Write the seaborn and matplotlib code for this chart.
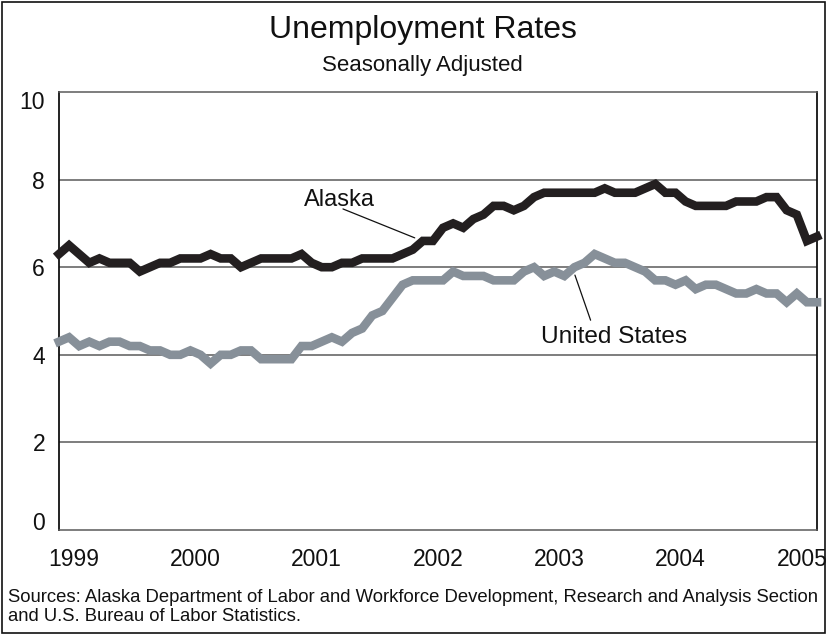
import matplotlib
matplotlib.use("Agg")
import matplotlib.pyplot as plt
import matplotlib.transforms as mtransforms
import seaborn as sns
import pandas as pd
import numpy as np
from matplotlib.patches import Rectangle

# Monthly, seasonally adjusted, Jan 1999 - Apr 2005
alaska = [6.3, 6.5, 6.3, 6.1, 6.2, 6.1, 6.1, 6.1, 5.9, 6.0, 6.1, 6.1,
          6.2, 6.2, 6.2, 6.3, 6.2, 6.2, 6.0, 6.1, 6.2, 6.2, 6.2, 6.2,
          6.3, 6.1, 6.0, 6.0, 6.1, 6.1, 6.2, 6.2, 6.2, 6.2, 6.3, 6.4,
          6.6, 6.6, 6.9, 7.0, 6.9, 7.1, 7.2, 7.4, 7.4, 7.3, 7.4, 7.6,
          7.7, 7.7, 7.7, 7.7, 7.7, 7.7, 7.8, 7.7, 7.7, 7.7, 7.8, 7.9,
          7.7, 7.7, 7.5, 7.4, 7.4, 7.4, 7.4, 7.5, 7.5, 7.5, 7.6, 7.6,
          7.3, 7.2, 6.6, 6.7]
united_states = [4.3, 4.4, 4.2, 4.3, 4.2, 4.3, 4.3, 4.2, 4.2, 4.1, 4.1, 4.0,
                 4.0, 4.1, 4.0, 3.8, 4.0, 4.0, 4.1, 4.1, 3.9, 3.9, 3.9, 3.9,
                 4.2, 4.2, 4.3, 4.4, 4.3, 4.5, 4.6, 4.9, 5.0, 5.3, 5.6, 5.7,
                 5.7, 5.7, 5.7, 5.9, 5.8, 5.8, 5.8, 5.7, 5.7, 5.7, 5.9, 6.0,
                 5.8, 5.9, 5.8, 6.0, 6.1, 6.3, 6.2, 6.1, 6.1, 6.0, 5.9, 5.7,
                 5.7, 5.6, 5.7, 5.5, 5.6, 5.6, 5.5, 5.4, 5.4, 5.5, 5.4, 5.4,
                 5.2, 5.4, 5.2, 5.2]
years = ["1999", "2000", "2001", "2002", "2003", "2004", "2005"]
y_ticks = [0, 2, 4, 6, 8, 10]

month = np.arange(len(alaska))
df = pd.concat([
    pd.DataFrame({"Month": month, "Rate": alaska, "Area": "Alaska"}),
    pd.DataFrame({"Month": month, "Rate": united_states, "Area": "United States"}),
])

sns.set_style("white")
plt.rcParams["font.family"] = ["Liberation Sans", "DejaVu Sans"]

fig = plt.figure(figsize=(8.27, 6.34), dpi=100)
ax = fig.add_axes([0.0713, 0.164, 0.9166, 0.6909])

sns.lineplot(data=df, x="Month", y="Rate", hue="Area",
             palette={"Alaska": "#231f20", "United States": "#879099"},
             linewidth=6.2, legend=False, ax=ax,
             solid_joinstyle="miter", solid_capstyle="projecting")
for line in ax.lines:
    line.set_clip_on(False)
# Alaska drawn on top
ax.lines[0].set_zorder(4)
ax.lines[1].set_zorder(3)

ax.set_xlim(0, len(alaska) - 1)
ax.set_ylim(0, 10)
ax.set_yticks(y_ticks)
ax.set_xticks([12 * i + 1.5 for i in range(len(years))])
ax.set_xticklabels(years)
ax.tick_params(axis="both", length=0, labelsize=16.5, colors="#111111")
ax.tick_params(axis="y", pad=10)
ax.tick_params(axis="x", pad=13)
ax.set_xlabel("")
ax.set_ylabel("")

# end labels of the y axis sit inside the box
ylabels = ax.get_yticklabels()
for lab, dy in [(ylabels[0], 9), (ylabels[-1], -8)]:
    lab.set_transform(lab.get_transform() +
                      mtransforms.ScaledTranslation(0, dy / 100, fig.dpi_scale_trans))

for v in [2, 4, 6, 8]:
    ax.axhline(v, color="#5a5a5a", linewidth=1.1, zorder=1)

for side in ["top", "bottom"]:
    ax.spines[side].set_color("#5a5a5a")
    ax.spines[side].set_linewidth(1.1)
for side in ["left", "right"]:
    ax.spines[side].set_color("#111111")
    ax.spines[side].set_linewidth(1.3)

# series labels with leader lines
ax.text(24.2, 7.53, "Alaska", fontsize=17, color="#111111", va="center")
ax.plot([28.1, 35.2], [7.33, 6.67], color="#111111", linewidth=0.9, zorder=5)
ax.text(47.7, 4.41, "United States", fontsize=17.6, color="#111111", va="center")
ax.plot([51.05, 52.6], [5.82, 4.79], color="#111111", linewidth=0.9, zorder=5)

fig.text(0.511, 0.952, "Unemployment Rates", ha="center", va="center",
         fontsize=23, color="#111111")
fig.text(0.511, 0.897, "Seasonally Adjusted", ha="center", va="center",
         fontsize=16, color="#111111")
fig.text(0.01, 0.0426, "Sources: Alaska Department of Labor and Workforce Development, "
         "Research and Analysis Section\nand U.S. Bureau of Labor Statistics.",
         ha="left", va="center", fontsize=13.3, color="#111111", linespacing=1.2)

fig.patches.append(Rectangle((0.003, 0.002), 0.994, 0.995, transform=fig.transFigure,
                             fill=False, edgecolor="#111111", linewidth=1.2))

fig.savefig("out.png", dpi=100)
